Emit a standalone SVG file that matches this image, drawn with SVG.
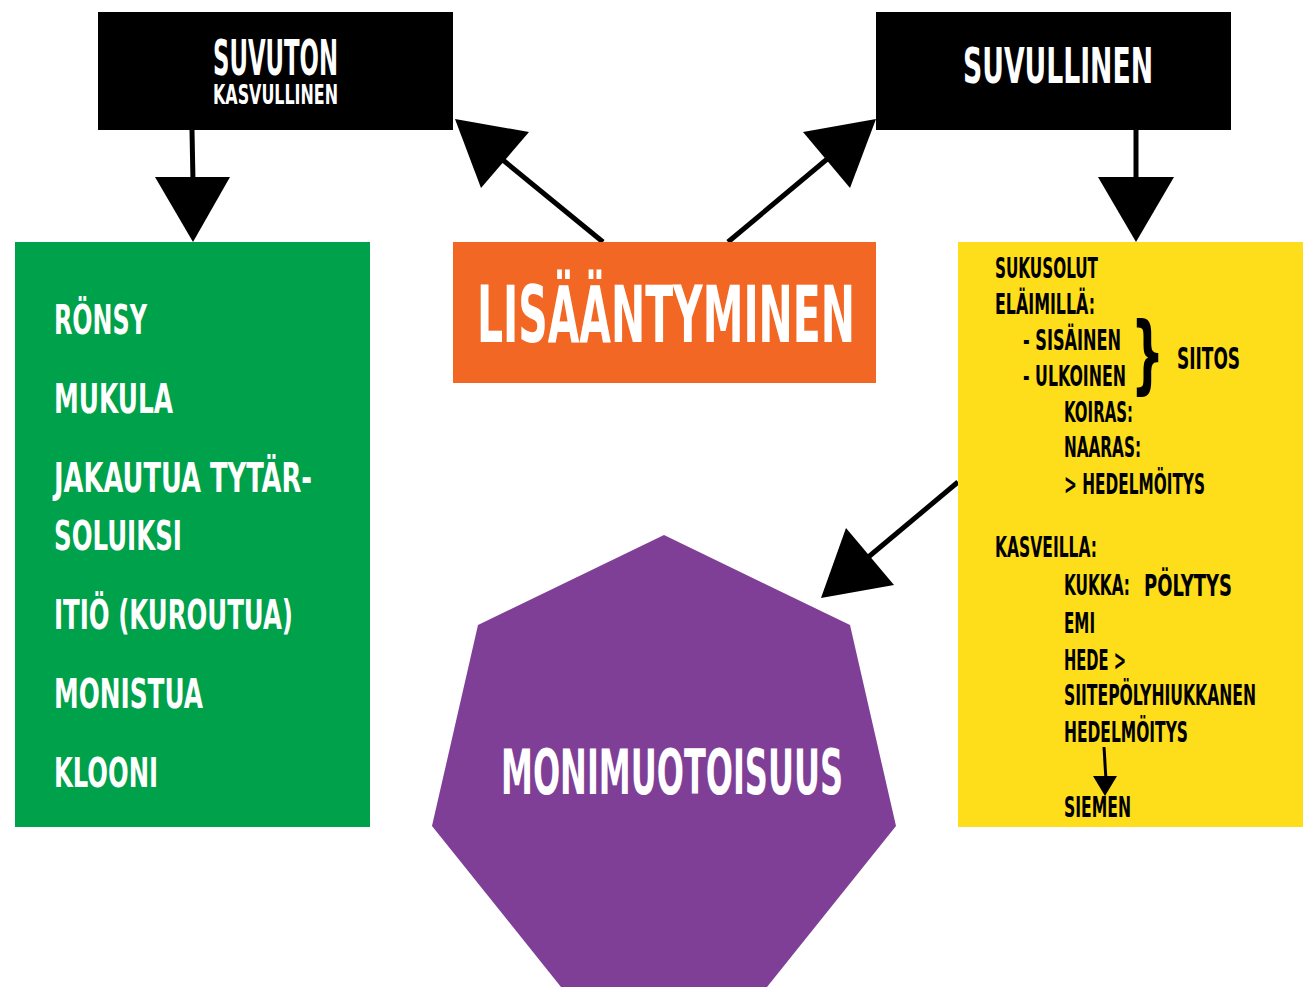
<svg xmlns="http://www.w3.org/2000/svg" width="1303" height="987" viewBox="0 0 1303 987">
<style>
text{font-family:"DejaVu Sans","Liberation Sans",sans-serif;font-weight:bold;font-stretch:condensed}
.w{fill:#ffffff}
.k{fill:#000000}
.y{font-size:29px}
.g{font-size:41px}
.ln{stroke:#000;stroke-width:5;fill:none}
.hd{fill:#000}
</style>
<rect width="1303" height="987" fill="#ffffff"/>
<g id="connectors">
<line class="ln" x1="192" y1="130" x2="193" y2="182"/>
<polygon class="hd" points="155,177 230,177 193,242"/>
<line class="ln" x1="1136" y1="130" x2="1136" y2="182"/>
<polygon class="hd" points="1098,177 1174,177 1136,242"/>
<line class="ln" x1="603" y1="242" x2="498" y2="156"/>
<polygon class="hd" points="455,119 529,132 481,188"/>
<line class="ln" x1="728" y1="242" x2="832" y2="155"/>
<polygon class="hd" points="876,119 803,132 850,188"/>
<line class="ln" x1="958" y1="482" x2="866" y2="559"/>
<polygon class="hd" points="821,598 846,528 894,585"/>
</g>
<g id="suvuton">
<rect x="98" y="12" width="355" height="118" fill="#000"/>
<text class="w" x="213" y="75" font-size="50" textLength="125" lengthAdjust="spacingAndGlyphs">SUVUTON</text>
<text class="w" x="213" y="104" font-size="27" textLength="125" lengthAdjust="spacingAndGlyphs">KASVULLINEN</text>
</g>
<g id="suvullinen">
<rect x="876" y="12" width="355" height="118" fill="#000"/>
<text class="w" x="963" y="83" font-size="49" textLength="190" lengthAdjust="spacingAndGlyphs">SUVULLINEN</text>
</g>
<g id="lisaantyminen">
<rect x="453" y="242" width="423" height="141" fill="#F26724"/>
<text class="w" x="477" y="342" font-size="78" textLength="378" lengthAdjust="spacingAndGlyphs">LISÄÄNTYMINEN</text>
</g>
<g id="suvuton-list">
<rect x="15" y="242" width="355" height="585" fill="#00A14B"/>
<text class="w g" x="54" y="334" textLength="93" lengthAdjust="spacingAndGlyphs">RÖNSY</text>
<text class="w g" x="54" y="413" textLength="119" lengthAdjust="spacingAndGlyphs">MUKULA</text>
<text class="w g" x="54" y="492" textLength="258" lengthAdjust="spacingAndGlyphs">JAKAUTUA TYTÄR-</text>
<text class="w g" x="54" y="550" textLength="128" lengthAdjust="spacingAndGlyphs">SOLUIKSI</text>
<text class="w g" x="54" y="629" textLength="239" lengthAdjust="spacingAndGlyphs">ITIÖ (KUROUTUA)</text>
<text class="w g" x="54" y="708" textLength="149" lengthAdjust="spacingAndGlyphs">MONISTUA</text>
<text class="w g" x="54" y="787" textLength="104" lengthAdjust="spacingAndGlyphs">KLOONI</text>
</g>
<g id="suvullinen-list">
<rect x="958" y="242" width="345" height="585" fill="#FEDD1A"/>
<text class="k y" x="995" y="278" textLength="103" lengthAdjust="spacingAndGlyphs">SUKUSOLUT</text>
<text class="k y" x="995" y="314" textLength="100" lengthAdjust="spacingAndGlyphs">ELÄIMILLÄ:</text>
<text class="k y" x="1023" y="350" textLength="98" lengthAdjust="spacingAndGlyphs">- SISÄINEN</text>
<text class="k y" x="1023" y="386" textLength="103" lengthAdjust="spacingAndGlyphs">- ULKOINEN</text>
<text class="k" transform="translate(1131,383) scale(0.6,1)" x="0" y="0" font-size="86">}</text>
<text class="k" x="1177" y="369" font-size="30" textLength="63" lengthAdjust="spacingAndGlyphs">SIITOS</text>
<text class="k y" x="1064" y="422" textLength="69" lengthAdjust="spacingAndGlyphs">KOIRAS:</text>
<text class="k y" x="1064" y="457" textLength="77" lengthAdjust="spacingAndGlyphs">NAARAS:</text>
<text class="k y" x="1064" y="494" textLength="141" lengthAdjust="spacingAndGlyphs">&gt; HEDELMÖITYS</text>
<text class="k y" x="995" y="557" textLength="102" lengthAdjust="spacingAndGlyphs">KASVEILLA:</text>
<text class="k y" x="1064" y="595" textLength="66" lengthAdjust="spacingAndGlyphs">KUKKA:</text>
<text class="k" x="1144" y="596" font-size="30" textLength="88" lengthAdjust="spacingAndGlyphs">PÖLYTYS</text>
<text class="k y" x="1064" y="633" textLength="31" lengthAdjust="spacingAndGlyphs">EMI</text>
<text class="k y" x="1064" y="670" textLength="62" lengthAdjust="spacingAndGlyphs">HEDE &gt;</text>
<text class="k y" x="1064" y="705" textLength="192" lengthAdjust="spacingAndGlyphs">SIITEPÖLYHIUKKANEN</text>
<text class="k y" x="1064" y="742" textLength="124" lengthAdjust="spacingAndGlyphs">HEDELMÖITYS</text>
<line x1="1104" y1="747" x2="1106" y2="780" stroke="#000" stroke-width="3"/>
<polygon class="hd" points="1093,776 1117,776 1105,796"/>
<text class="k y" x="1064" y="817" textLength="67" lengthAdjust="spacingAndGlyphs">SIEMEN</text>
</g>
<g id="monimuotoisuus">
<polygon points="664,535 850,625 896,826 767,987 561,987 432,826 478,625" fill="#803F97"/>
<text class="w" x="501" y="794" font-size="62" textLength="342" lengthAdjust="spacingAndGlyphs">MONIMUOTOISUUS</text>
</g>
</svg>
